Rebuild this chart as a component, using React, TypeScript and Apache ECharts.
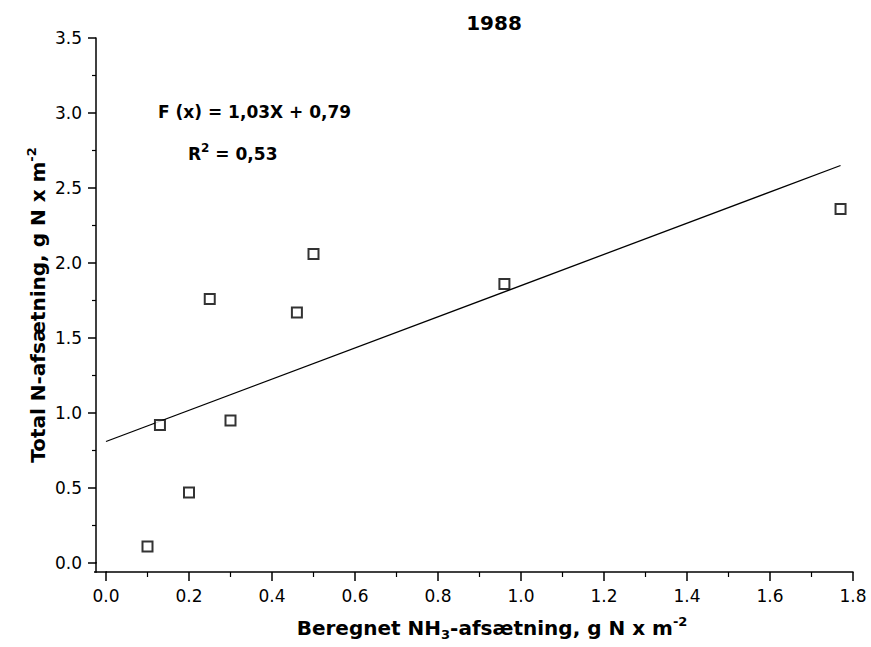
import React, { useEffect, useRef } from "react";
import * as echarts from "echarts";

const xValues = [0.1, 0.13, 0.2, 0.25, 0.3, 0.46, 0.5, 0.96, 1.77];
const yValues = [0.11, 0.92, 0.47, 1.76, 0.95, 1.67, 2.06, 1.86, 2.36];
const fitX = [0, 1.77];
const fitY = [0.81, 2.65];
const titleText = "1988";
const equationText = "F (x) = 1,03X + 0,79";
const r2Value = "0,53";

const FONT = "'DejaVu Sans', Verdana, sans-serif";

export default function App() {
  const ref = useRef<HTMLDivElement>(null);
  useEffect(() => {
    document.body.style.margin = "0";
    if (!ref.current) return;
    const chart = echarts.init(ref.current, null, { renderer: "svg" });
    const axisCommon = {
      type: "value" as const,
      axisLine: { show: true, onZero: false, lineStyle: { color: "#000", width: 1.5 } },
      axisTick: { show: true, inside: false, lineStyle: { color: "#000", width: 1.5 } },
      minorTick: { show: true, splitNumber: 2, lineStyle: { color: "#000", width: 1.2 } },
      splitLine: { show: false },
      minorSplitLine: { show: false },
      axisLabel: {
        color: "#000",
        fontSize: 17,
        fontFamily: FONT,
        formatter: (v: number) => v.toFixed(1),
      },
    };
    chart.setOption({
      animation: false,
      backgroundColor: "#fff",
      grid: { left: 106, right: 18, top: 38, bottom: 84, containLabel: false },
      xAxis: {
        ...axisCommon,
        min: 0,
        max: 1.8,
        interval: 0.2,
        offset: 9,
        axisTick: { ...axisCommon.axisTick, length: 9 },
        minorTick: { ...axisCommon.minorTick, length: 5 },
        axisLabel: { ...axisCommon.axisLabel, margin: 15, showMaxLabel: true },
      },
      yAxis: {
        ...axisCommon,
        min: 0,
        max: 3.5,
        interval: 0.5,
        offset: 10,
        axisTick: { ...axisCommon.axisTick, length: 8 },
        minorTick: { ...axisCommon.minorTick, length: 4 },
        axisLabel: { ...axisCommon.axisLabel, margin: 14 },
      },
      series: [
        {
          type: "line",
          data: fitX.map((x, i) => [x, fitY[i]]),
          symbol: "none",
          lineStyle: { color: "#000", width: 1.3 },
          z: 2,
        },
        {
          type: "scatter",
          data: xValues.map((x, i) => [x, yValues[i]]),
          symbol: "rect",
          symbolSize: 10,
          itemStyle: { color: "#fff", borderColor: "#000", borderWidth: 2 },
          z: 3,
        },
      ],
      graphic: [
        {
          type: "line",
          shape: { x1: 94, y1: 572, x2: 107, y2: 572 },
          style: { stroke: "#000", lineWidth: 1.5 },
        },
        {
          type: "line",
          shape: { x1: 96, y1: 562, x2: 96, y2: 572.75 },
          style: { stroke: "#000", lineWidth: 1.5 },
        },
        {
          type: "text",
          x: 494,
          y: 23,
          style: {
            text: titleText,
            font: `bold 20px ${FONT}`,
            fill: "#000",
            align: "center",
            verticalAlign: "middle",
          },
        },
        {
          type: "text",
          x: 158,
          y: 112,
          style: {
            text: equationText,
            font: `bold 17px ${FONT}`,
            fill: "#000",
            align: "left",
            verticalAlign: "middle",
          },
        },
        {
          type: "text",
          x: 188,
          y: 154,
          style: {
            text: `{a|R}{sup|2}{a| = ${r2Value}}`,
            fill: "#000",
            align: "left",
            verticalAlign: "middle",
            rich: {
              a: { fontSize: 17, fontWeight: "bold", fontFamily: FONT, lineHeight: 24, fill: "#000" },
              sup: { fontSize: 12, fontWeight: "bold", fontFamily: FONT, lineHeight: 12, verticalAlign: "top", fill: "#000" },
            },
          },
        },
        {
          type: "text",
          x: 492,
          y: 628,
          style: {
            text: "{a|Beregnet NH}{sub|3}{a|-afsætning, g N x m}{sup|-2}",
            fill: "#000",
            align: "center",
            verticalAlign: "middle",
            rich: {
              a: { fontSize: 20, fontWeight: "bold", fontFamily: FONT, lineHeight: 26, fill: "#000" },
              sub: { fontSize: 13, fontWeight: "bold", fontFamily: FONT, lineHeight: 13, verticalAlign: "bottom", fill: "#000" },
              sup: { fontSize: 13, fontWeight: "bold", fontFamily: FONT, lineHeight: 13, verticalAlign: "top", fill: "#000" },
            },
          },
        },
        {
          type: "text",
          x: 38,
          y: 305,
          rotation: Math.PI / 2,
          style: {
            text: "{a|Total N-afsætning, g N x m}{sup|-2}",
            fill: "#000",
            align: "center",
            verticalAlign: "middle",
            rich: {
              a: { fontSize: 20, fontWeight: "bold", fontFamily: FONT, lineHeight: 26, fill: "#000" },
              sup: { fontSize: 13, fontWeight: "bold", fontFamily: FONT, lineHeight: 13, verticalAlign: "top", fill: "#000" },
            },
          },
        },
      ],
    });
    return () => chart.dispose();
  }, []);
  return <div ref={ref} style={{ width: 871, height: 647 }} />;
}
